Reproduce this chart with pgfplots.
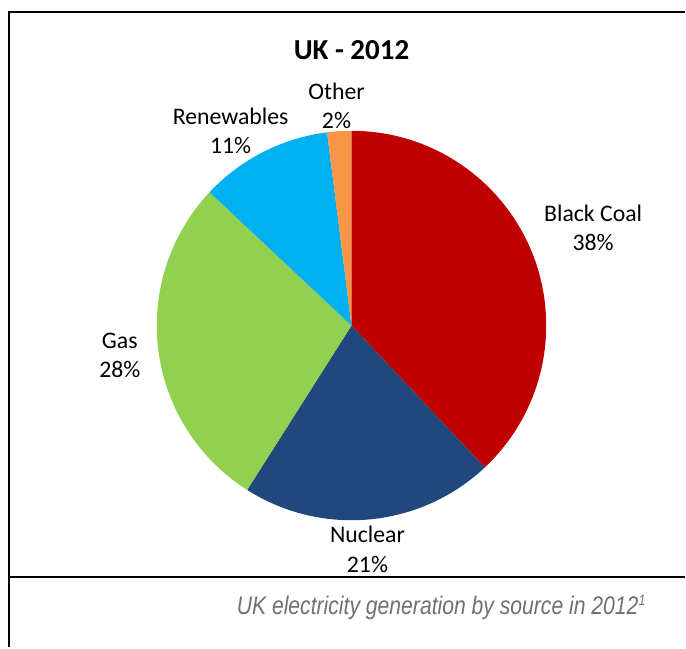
\documentclass[border=0pt]{standalone}
\usepackage{pgfplots}
\usepackage{pgfplotstable}
\pgfplotsset{compat=1.18}
\usepackage{fontspec}
\setmainfont{Carlito}
\newfontfamily\capfont{Liberation Sans}
\definecolor{coal}{RGB}{192,0,0}
\definecolor{nuclear}{RGB}{31,73,125}
\definecolor{gas}{RGB}{146,208,80}
\definecolor{renew}{RGB}{0,176,240}
\definecolor{other}{RGB}{247,150,70}
\definecolor{capgray}{RGB}{112,112,116}

\pgfplotstableread[col sep=comma]{
label,value,color
Black Coal,38,coal
Nuclear,21,nuclear
Gas,28,gas
Renewables,11,renew
Other,2,other
}\piedata

\begin{document}
\begin{tikzpicture}
\gdef\cumangle{90}
\foreach \i in {0,...,4}{%
  \pgfplotstablegetelem{\i}{value}\of\piedata
  \pgfmathsetmacro\a{\cumangle}%
  \pgfmathsetmacro\b{\cumangle-3.6*\pgfplotsretval}%
  \expandafter\xdef\csname piestart\i\endcsname{\a}%
  \expandafter\xdef\csname pieend\i\endcsname{\b}%
  \xdef\cumangle{\b}%
  \pgfplotstablegetelem{\i}{color}\of\piedata
  \expandafter\xdef\csname piecolor\i\endcsname{\pgfplotsretval}%
}
\begin{axis}[
  x=1pt, y=1pt,
  xmin=0, xmax=686, ymin=0, ymax=648,
  hide axis, clip=false,
  anchor=origin, at={(0,0)},
]
\path (axis cs:0,0) rectangle (axis cs:686,648);
\pgfplotsinvokeforeach{0,...,4}{
  \edef\tmp{\noexpand\fill[\csname piecolor#1\endcsname]
    (axis cs:352,322) -- ++(\csname piestart#1\endcsname:195pt)
    arc[start angle=\csname piestart#1\endcsname, end angle=\csname pieend#1\endcsname, radius=195pt] -- cycle;}
  \tmp
}
% frame
\draw[line width=2pt, black] (axis cs:8,636) -- (axis cs:686,636);
\draw[line width=2pt, black] (axis cs:9,636) -- (axis cs:9,0);
\draw[line width=2pt, black] (axis cs:9,70) -- (axis cs:686,70);
% title
\node[font=\fontsize{29}{30}\selectfont\bfseries] at (axis cs:352,598) {UK - 2012};
% labels
\tikzset{lab/.style={align=center, font=\fontsize{23.8}{29.5}\selectfont}}
\node[lab] at (axis cs:594,420) {Black Coal\\38\%};
\node[lab] at (axis cs:368,98) {Nuclear\\21\%};
\node[lab] at (axis cs:120,292) {Gas\\28\%};
\node[lab] at (axis cs:231,517) {Renewables\\11\%};
\node[lab] at (axis cs:337,542) {Other\\2\%};
% caption
\node[font=\capfont\itshape\fontsize{25.5}{28}\selectfont, text=capgray, xscale=0.83] at (axis cs:442,40) {UK electricity generation by source in 2012\textsuperscript{\fontsize{15}{15}\selectfont 1}};
\end{axis}
\end{tikzpicture}
\end{document}
